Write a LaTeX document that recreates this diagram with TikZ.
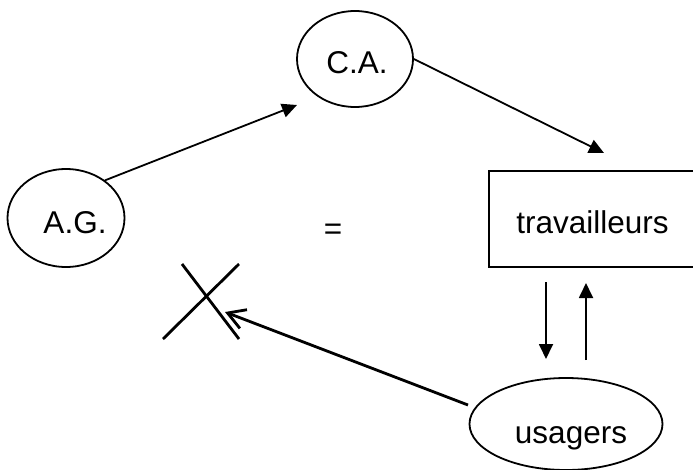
\documentclass[tikz,border=0pt]{standalone}
\usepackage{fontspec}
\setmainfont{Liberation Sans}
\usetikzlibrary{shapes.geometric,arrows.meta}
\begin{document}
\begin{tikzpicture}[x=1pt,y=-1pt,
  oval/.style={ellipse,draw,line width=1.8pt,inner sep=0pt},
  box/.style={rectangle,draw,line width=1.5pt,inner sep=0pt},
  txt/.style={anchor=base,inner sep=0pt,font=\fontsize{31.5}{37}\selectfont},
  arr/.style={line width=1.8pt,-{Triangle[length=15pt,width=14pt]}},
  bigarr/.style={line width=2.8pt,-{Straight Barb[length=17pt,width=20pt,line width=2.8pt]}},
  crossline/.style={line width=2.8pt}]
\useasboundingbox (0,0) rectangle (693,469);
% shapes
\node[oval,minimum width=116pt,minimum height=96pt] (CA) at (355,59) {};
\node[oval,minimum width=117pt,minimum height=98pt] (AG) at (66,218) {};
\node[box,minimum width=208pt,minimum height=96pt] (TR) at (593,219) {};
\node[oval,minimum width=193pt,minimum height=92pt] (U) at (566,424) {};
% texts
\node[txt] (CAt) at (357,73) {C.A.};
\node[txt] (AGt) at (75,233) {A.G.};
\node[txt] (TRt) at (592.5,233) {travailleurs};
\node[txt] (Ut) at (571,443) {usagers};
\node[txt] (eq) at (333,239) {=};
% connector ends
\coordinate (a1) at (297,105);
\coordinate (a2) at (604,153);
\coordinate (d1) at (546,282);
\coordinate (d2) at (546,359);
\coordinate (u1) at (586,360);
\coordinate (u2) at (586,283);
\coordinate (s1) at (468,405);
\coordinate (s2) at (225,312);
\coordinate (x1) at (182,264);
\coordinate (x2) at (239,339);
\coordinate (x3) at (239,264);
\coordinate (x4) at (163,339);
% connectors
\draw[arr] (AG.44) -- (a1);
\draw[arr] (CA.east) -- (a2);
\draw[arr] (d1) -- (d2);
\draw[arr] (u1) -- (u2);
\draw[bigarr] (s1) -- (s2);
\draw[crossline] (x1) -- (x2);
\draw[crossline] (x3) -- (x4);
\end{tikzpicture}
\end{document}
